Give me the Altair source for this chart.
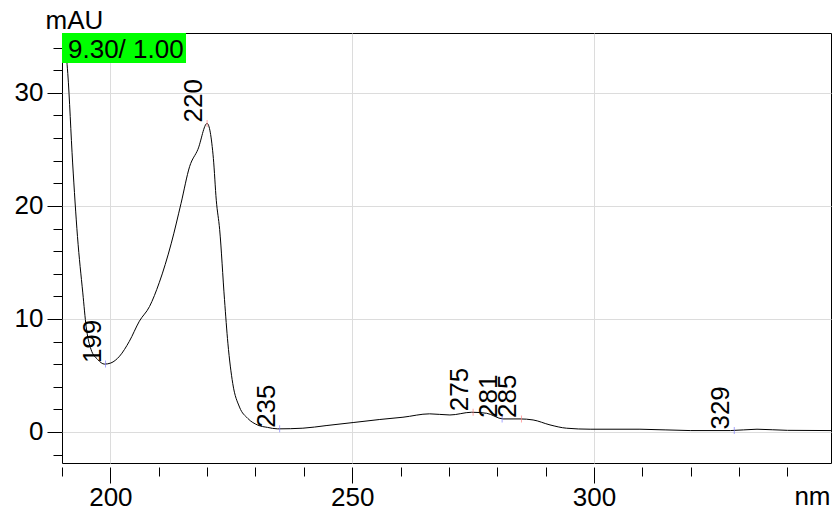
import altair as alt
import pandas as pd

# ---- data ----
wavelength = [190, 191.2, 192.2, 193.2, 194.3, 195, 196, 197.4, 198.8, 200.1,
              201.9, 203.9, 206, 208.1, 210.1, 212.6, 214.6, 216.4, 218.1, 220,
              221.3, 221.9, 222.6, 223.6, 224.3, 225.3, 226.7, 228.4, 230.5, 232.5,
              234.6, 239.8, 244.6, 250.2, 255.7, 260.5, 266, 270.2, 274.7, 277.8,
              281.2, 284.7, 287.4, 290.9, 294.3, 299.2, 309.5, 319.9, 328.2, 333.7,
              340, 349]
absorbance = [36.0, 31.7, 23.8, 17.3, 12.3, 9.3, 7.3, 6.4, 6.0, 6.1,
              6.7, 8.0, 9.8, 11.1, 13.2, 16.7, 20.2, 23.5, 25.0, 27.3,
              24.2, 20.5, 17.9, 11.7, 7.85, 4.3, 2.2, 1.2, 0.6, 0.4,
              0.27, 0.33, 0.56, 0.83, 1.1, 1.3, 1.6, 1.5, 1.74, 1.65,
              1.15, 1.15, 1.06, 0.62, 0.33, 0.24, 0.24, 0.12, 0.12, 0.24,
              0.14, 0.12]

peak_nm = [199, 220, 235, 275, 281, 285, 329]
peak_abs = [6.0, 27.3, 0.27, 1.74, 1.15, 1.15, 0.12]
peak_kind = ["min", "max", "min", "max", "min", "max", "min"]
peak_label = ["199", "220", "235", "275", "281", "285", "329"]

x_ticks = list(range(190, 350, 10))
y_ticks = list(range(-2, 36, 2))
box_text = ["9.30/ 1.00"]

FONT = "Liberation Sans"
FS = 26

curve = pd.DataFrame({"nm": wavelength, "mAU": absorbance})
peaks = pd.DataFrame({"nm": peak_nm, "mAU": peak_abs, "kind": peak_kind, "label": peak_label})
boxdf = pd.DataFrame({"t": box_text})

xscale = alt.Scale(domain=[190, 349], nice=False, zero=False)
yscale = alt.Scale(domain=[-2.75, 35.3], nice=False, zero=False)

xaxis = alt.Axis(
    values=x_ticks, title="nm", domain=False, offset=4,
    labelExpr="datum.value % 50 === 0 ? datum.label : ''",
    labelOverlap=False, labelFlush=False,
    tickSize={"condition": {"test": "datum.value % 50 === 0", "value": 16}, "value": 9},
    tickColor="black", tickWidth=1,
    gridColor={"condition": {"test": "datum.value % 50 === 0", "value": "#dcdcdc"}, "value": "rgba(0,0,0,0)"},
    labelFont=FONT, labelFontSize=FS, labelColor="black", labelPadding=1,
    titleFont=FONT, titleFontSize=FS, titleFontWeight="normal", titleColor="black",
    titleAngle=0, titleAlign="right", titleBaseline="bottom", titleX=768, titleY=42,
)
yaxis = alt.Axis(
    values=y_ticks, title="mAU", domain=False,
    labelExpr="datum.value % 10 === 0 ? datum.label : ''",
    labelOverlap=False, labelFlush=False,
    tickSize={"condition": {"test": "datum.value % 10 === 0", "value": 15}, "value": 9},
    tickColor="black", tickWidth=1,
    gridColor={"condition": {"test": "datum.value % 10 === 0", "value": "#dcdcdc"}, "value": "rgba(0,0,0,0)"},
    labelFont=FONT, labelFontSize=FS, labelColor="black", labelPadding=4,
    titleFont=FONT, titleFontSize=FS, titleFontWeight="normal", titleColor="black",
    titleAngle=0, titleAlign="left", titleBaseline="alphabetic", titleX=-17, titleY=-5,
)

X = lambda f: alt.X(f, type="quantitative", scale=xscale, axis=xaxis)
Y = lambda f: alt.Y(f, type="quantitative", scale=yscale, axis=yaxis)

line = alt.Chart(curve).mark_line(color="black", strokeWidth=1, clip=True,
                                  interpolate="monotone").encode(x=X("nm"), y=Y("mAU"))

marks = alt.Chart(peaks).mark_tick(orient="vertical", size=7, thickness=1).encode(
    x=X("nm"), y=Y("mAU"),
    color=alt.Color("kind:N", scale=alt.Scale(domain=["min", "max"], range=["#7f7fff", "#ff7f7f"]), legend=None),
)

labels = alt.Chart(peaks).mark_text(angle=270, align="left", baseline="alphabetic",
                                    dx=1, dy=-5, font=FONT, fontSize=FS, color="black").encode(
    x=X("nm"), y=Y("mAU"), text="label:N")

box = alt.Chart(boxdf).mark_rect(color="#00ff00").encode(
    x=alt.value(0), x2=alt.value(124), y=alt.value(0), y2=alt.value(30))
boxt = alt.Chart(boxdf).mark_text(align="left", baseline="alphabetic", font=FONT,
                                  fontSize=FS, color="black").encode(
    x=alt.value(6), y=alt.value(25), text="t:N")

chart = alt.layer(line, marks, labels, box, boxt).properties(
    width=769, height=430,
    autosize=alt.AutoSizeParams(type="none"),
    padding={"left": 62, "top": 33, "right": 3, "bottom": 47},
    background="white",
).configure_view(stroke="black", strokeWidth=1)

chart.save("out.html", embed_options={"renderer": "svg", "actions": False})
